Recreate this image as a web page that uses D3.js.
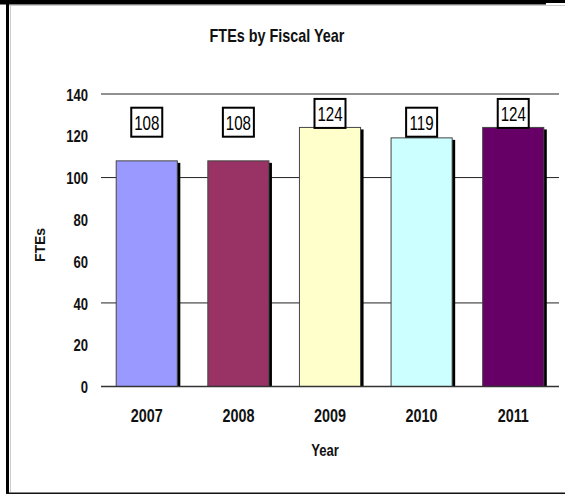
<!DOCTYPE html>
<html><head><meta charset="utf-8">
<script src="https://cdn.jsdelivr.net/npm/d3@7"></script>
<style>html,body{margin:0;padding:0;background:#fff;}svg{display:block;}</style>
</head><body>
<script>
const years = ["2007", "2008", "2009", "2010", "2011"];
const ftes = [108, 108, 124, 119, 124];
const barColors = ["#9999FF", "#993366", "#FFFFCC", "#CCFFFF", "#660066"];
const yTicks = [0, 20, 40, 60, 80, 100, 120, 140];
const gridValues = [40, 100, 140];
const title = "FTEs by Fiscal Year";
const xTitle = "Year";
const yTitle = "FTEs";

const W = 565, H = 495;
const font = "'Liberation Sans',Arial,sans-serif";
const svg = d3.select("body").append("svg").attr("width", W).attr("height", H);

// frame
svg.append("rect").attr("x", 0).attr("y", 0).attr("width", 546).attr("height", 4.5).attr("fill", "#000");
svg.append("rect").attr("x", 546).attr("y", 0).attr("width", 19).attr("height", 3).attr("fill", "#000");
svg.append("line").attr("x1", 9).attr("x2", 565).attr("y1", 5.5).attr("y2", 5.5).attr("stroke", "#ccc");
svg.append("rect").attr("x", 6).attr("y", 0).attr("width", 3).attr("height", 494).attr("fill", "#000");
svg.append("line").attr("x1", 10.5).attr("x2", 10.5).attr("y1", 5).attr("y2", 492).attr("stroke", "#ccc");
svg.append("rect").attr("x", 6).attr("y", 492.5).attr("width", 559).attr("height", 1.5).attr("fill", "#111");

const x = d3.scaleBand().domain(years).range([101, 559]).paddingInner(0.333).paddingOuter(0.166);
const y = d3.scaleLinear().domain([0, 140]).range([386.5, 94]);

// gridlines
svg.append("g").selectAll("line").data(gridValues).join("line")
  .attr("x1", 101).attr("x2", 559)
  .attr("y1", d => y(d)).attr("y2", d => y(d))
  .attr("stroke", "#222").attr("stroke-width", 1);

// bars: shadow then fill
const bars = svg.append("g").selectAll("g").data(years).join("g");
bars.append("rect")
  .attr("x", d => x(d) + 3).attr("y", (d, i) => y(ftes[i]) + 2)
  .attr("width", x.bandwidth()).attr("height", (d, i) => y(0) - y(ftes[i]) - 2)
  .attr("fill", "#000");
bars.append("rect")
  .attr("x", d => x(d)).attr("y", (d, i) => y(ftes[i]))
  .attr("width", x.bandwidth()).attr("height", (d, i) => y(0) - y(ftes[i]))
  .attr("fill", (d, i) => barColors[i])
  .attr("stroke", "#444").attr("stroke-width", 1);

// x axis line
svg.append("line").attr("x1", 101).attr("x2", 559).attr("y1", y(0)).attr("y2", y(0))
  .attr("stroke", "#333").attr("stroke-width", 1.5);

// y axis labels
const yAxis = d3.axisLeft(y).tickValues(yTicks).tickSize(0).tickPadding(0);
const gy = svg.append("g").attr("transform", "translate(88,0)").call(yAxis);
gy.select(".domain").remove();
gy.selectAll("text").attr("font-family", font).attr("font-size", 17).attr("font-weight", "bold")
  .attr("fill", "#111").attr("transform", "scale(0.77,1)").attr("dy", "0.36em");

// x axis labels
const xAxis = d3.axisBottom(x).tickSize(0).tickPadding(0);
const gx = svg.append("g").attr("transform", "translate(0,422)").call(xAxis);
gx.select(".domain").remove();
gx.selectAll("text").attr("font-family", font).attr("font-size", 18).attr("font-weight", "bold")
  .attr("fill", "#111").attr("transform", "scale(0.8,1)").attr("dy", 0);

// data labels
const lab = svg.append("g").selectAll("g").data(years).join("g")
  .attr("transform", (d, i) => `translate(${x(d) + x.bandwidth() / 2},${Math.min(y(ftes[i]) - 14, y(126.5))})`);
lab.append("rect").attr("x", -15.5).attr("y", -14.5).attr("width", 31).attr("height", 29)
  .attr("fill", "#fff").attr("stroke", "#000").attr("stroke-width", 2);
lab.append("text").attr("text-anchor", "middle").attr("y", 8)
  .attr("transform", "scale(0.72,1)")
  .attr("font-family", font).attr("font-size", 21).attr("fill", "#000")
  .text((d, i) => ftes[i]);

// titles
function label(txt, tx, ty, size, sx, rot) {
  svg.append("g").attr("transform", `translate(${tx},${ty}) rotate(${rot || 0}) scale(${sx},1)`)
    .append("text").attr("text-anchor", "middle")
    .attr("font-family", font).attr("font-size", size).attr("font-weight", "bold").attr("fill", "#111")
    .text(txt);
}
label(title, 277, 41.5, 18, 0.8);
label(xTitle, 325, 456, 17, 0.77);
label(yTitle, 45, 245, 14, 1, -90);
</script>
</body></html>
